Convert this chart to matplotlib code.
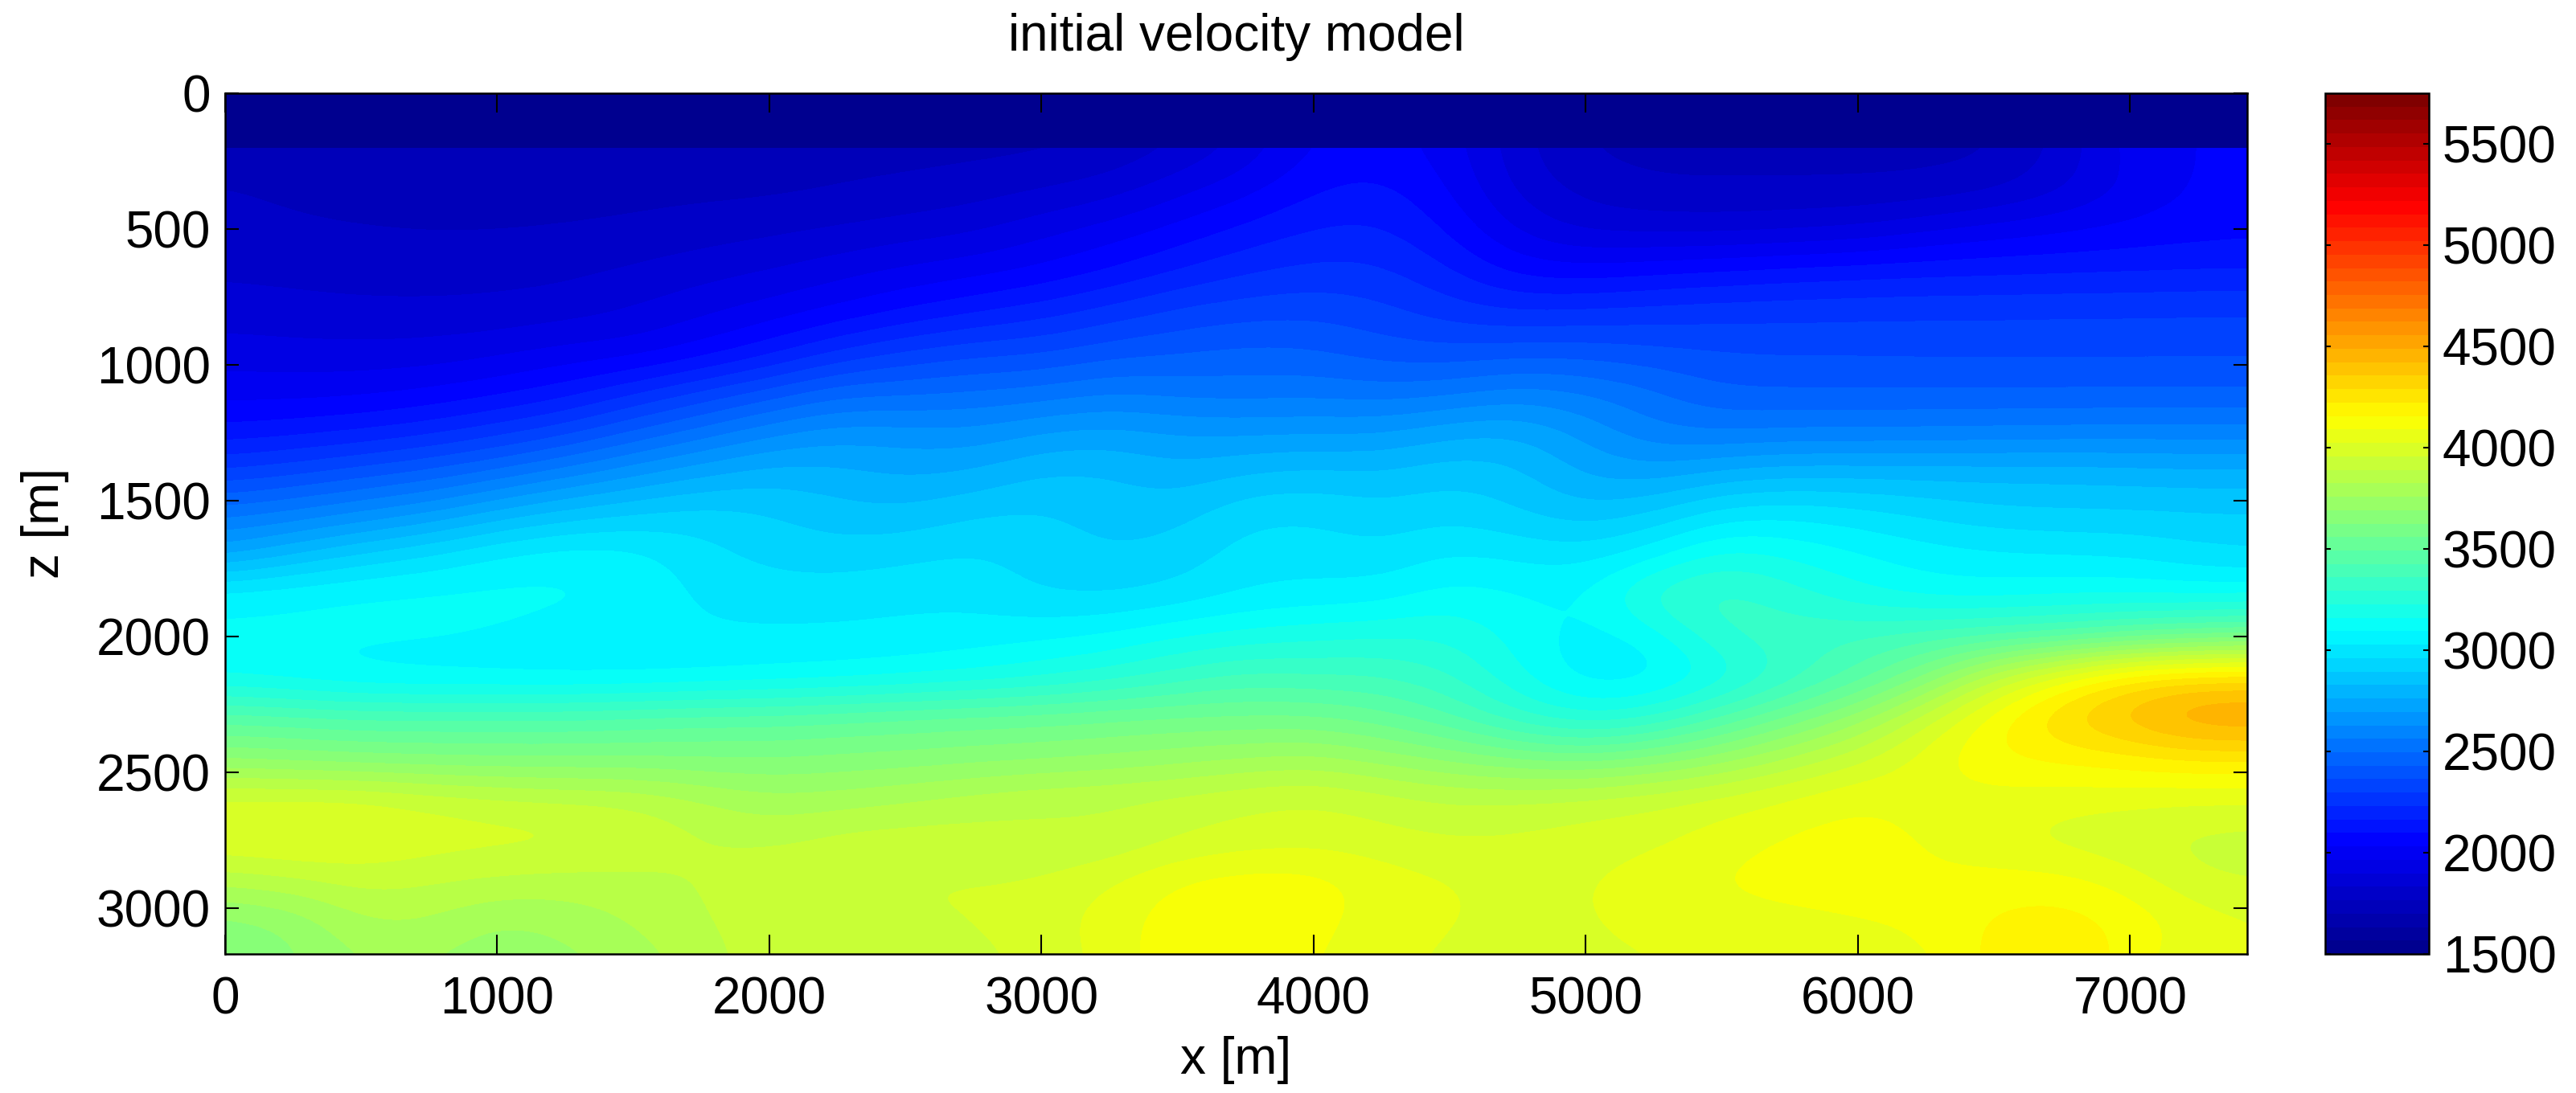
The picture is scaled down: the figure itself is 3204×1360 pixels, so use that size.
#!/usr/bin/env python3
"""
initial velocity model - image of the model with jet colorbar
"""
import matplotlib
matplotlib.use('Agg')
import matplotlib.pyplot as plt
import numpy as np
from matplotlib.colors import LinearSegmentedColormap

plt.rcParams['font.family'] = ['Liberation Sans', 'DejaVu Sans']

# grid, velocity in m/s
x_step = 250
z_first = 200
z_step = 150
water_velocity = 1500
x_max = 7430
z_max = 3170
v_min = 1500
v_max = 5750
x_ticks = [0, 1000, 2000, 3000, 4000, 5000, 6000, 7000]
z_ticks = [0, 500, 1000, 1500, 2000, 2500, 3000]
cbar_ticks = [1500, 2000, 2500, 3000, 3500, 4000, 4500, 5000, 5500]

z200 = [1745,1745,1745,1745,1745,1745,1745,1745,1745,1745,1745,1745,1750,1770,1830,1915,2040,2065,2001,1852,1755,1745,1745,1745,1745,1745,1750,1850,2000,2035,2050]
z350 = [1765,1750,1745,1745,1745,1745,1745,1745,1745,1760,1775,1795,1825,1860,1940,2005,2090,2117,2035,1874,1805,1770,1768,1768,1768,1775,1810,1880,1980,2040,2060]
z500 = [1795,1775,1765,1760,1760,1765,1775,1795,1815,1835,1860,1885,1940,1990,2050,2113,2168,2177,2090,1946,1875,1870,1865,1880,1900,1950,1990,2020,2045,2065,2075]
z650 = [1820,1815,1805,1800,1805,1815,1840,1870,1895,1935,1975,2000,2040,2095,2160,2218,2247,2243,2169,2067,2050,2075,2095,2117,2130,2140,2145,2150,2155,2160,2160]
z800 = [1860,1850,1845,1845,1850,1865,1900,1945,1990,2040,2095,2150,2195,2250,2310,2334,2346,2314,2260,2225,2240,2255,2270,2275,2280,2285,2285,2290,2290,2295,2295]
z950 = [1930,1920,1915,1920,1945,1980,1990,2050,2130,2230,2300,2340,2350,2400,2420,2445,2434,2393,2378,2397,2396,2377,2362,2355,2355,2350,2350,2350,2350,2350,2350]
z1100 = [2000,2000,2010,2035,2075,2125,2215,2304,2385,2472,2480,2500,2515,2560,2537,2528,2537,2518,2537,2588,2562,2505,2435,2430,2430,2430,2430,2430,2430,2430,2430]
z1250 = [2120,2140,2170,2210,2270,2340,2440,2524,2615,2672,2659,2645,2700,2723,2688,2683,2690,2690,2751,2766,2676,2575,2555,2571,2570,2575,2580,2585,2590,2590,2590]
z1400 = [2310,2350,2400,2450,2520,2600,2680,2753,2803,2785,2750,2770,2836,2834,2786,2830,2853,2837,2879,2849,2747,2724,2781,2809,2810,2810,2810,2810,2800,2790,2790]
z1550 = [2540,2580,2640,2700,2790,2860,2903,2931,2900,2853,2844,2894,2907,2865,2866,2950,2955,2918,2945,2901,2848,2900,2999,3018,2990,2950,2915,2905,2905,2900,2900]
z1700 = [2735,2830,2910,2970,3040,3075,3060,2983,2942,2926,2947,2972,2933,2897,2923,2993,2996,2974,3033,3013,2997,3066,3194,3148,3100,3060,3040,3030,3020,2980,2960]
z1850 = [3085,3100,3115,3120,3120,3110,3090,3013,2992,2998,3011,3006,2955,2950,2980,3030,3046,3060,3129,3100,3090,3293,3340,3265,3180,3130,3120,3140,3140,3130,3140]
z2000 = [3105,3105,3105,3100,3085,3060,3050,3040,3040,3040,3045,3060,3080,3106,3157,3186,3210,3224,3221,3135,3055,3110,3300,3340,3360,3390,3420,3440,3500,3540,3570]
z2150 = [3130,3100,3065,3055,3055,3055,3060,3075,3095,3110,3135,3160,3200,3250,3320,3380,3360,3360,3300,3170,3040,3045,3160,3300,3430,3625,3890,4100,4260,4310,4310]
z2300 = [3470,3450,3430,3430,3430,3430,3450,3470,3470,3490,3510,3530,3540,3560,3570,3570,3570,3520,3430,3300,3220,3280,3430,3570,3730,3940,4150,4310,4420,4530,4530]
z2450 = [3680,3660,3640,3630,3625,3625,3625,3625,3625,3640,3650,3665,3680,3700,3730,3760,3780,3730,3680,3625,3595,3650,3730,3840,3940,4070,4156,4170,4200,4230,4230]
z2600 = [3990,3990,3990,3950,3920,3900,3890,3830,3780,3790,3820,3860,3890,3900,3920,3950,3970,3930,3890,3900,3920,3950,3990,4040,4095,4060,4060,4050,4040,4030,4030]
z2750 = [4030,4050,4030,4000,3990,3990,3950,3900,3870,3920,3930,3920,3900,3890,3950,3980,3990,3980,3960,3970,3990,4010,4060,4105,4115,4090,4030,3990,3960,3930,3920]
z2900 = [3850,3880,3920,3900,3880,3860,3870,3890,3960,3950,3960,3960,3960,4020,4100,4130,4130,4060,4030,4000,4020,4060,4100,4120,4120,4100,4120,4120,4060,3960,3950]
z3050 = [3660,3700,3820,3820,3750,3780,3830,3880,3940,3950,3950,3960,3990,4060,4130,4150,4120,4050,4030,4000,4020,4040,4060,4070,4090,4110,4170,4195,4140,4060,4030]
z3200 = [3600,3680,3760,3760,3700,3730,3790,3850,3940,3920,3880,3940,3970,4050,4140,4150,4090,4040,4010,3990,4010,4020,4030,4040,4040,4060,4190,4240,4120,4030,4010]

rows = [z200, z350, z500, z650, z800, z950, z1100, z1250, z1400, z1550, z1700,
        z1850, z2000, z2150, z2300, z2450, z2600, z2750, z2900, z3050, z3200]
vel = np.array(rows, dtype=float)

# matlab style jet, 64 levels
jet64 = LinearSegmentedColormap.from_list('jet64', [
    (0.0, (0, 0, 0.5625)), (0.125, (0, 0, 1)), (0.375, (0, 1, 1)),
    (0.625, (1, 1, 0)), (0.875, (1, 0, 0)), (1.0, (0.5, 0, 0))], N=64)

W, H = 3205, 1360
fig = plt.figure(figsize=(W / 100, H / 100), dpi=100, facecolor='white')
ax = fig.add_axes([280 / W, 1 - 1187 / H, (2795 - 280) / W, (1187 - 116) / H])
cax = fig.add_axes([2892 / W, 1 - 1187 / H, (3021 - 2892) / W, (1187 - 116) / H])

nz, nx = vel.shape
extent = [-x_step / 2, (nx - 0.5) * x_step, z_first + (nz - 0.5) * z_step, z_first - z_step / 2]
im = ax.imshow(vel, cmap=jet64, vmin=v_min, vmax=v_max, extent=extent,
               aspect='auto', interpolation='bicubic', interpolation_stage='data')
# water layer on top
ax.imshow([[water_velocity]], cmap=jet64, vmin=v_min, vmax=v_max,
          extent=[0, x_max, z_first, 0], aspect='auto', interpolation='nearest')
ax.set_xlim(0, x_max)
ax.set_ylim(z_max, 0)

ax.set_xticks(x_ticks)
ax.set_yticks(z_ticks)
ax.tick_params(direction='in', top=True, right=True, length=17, width=1.5,
               labelsize=46)
ax.tick_params(axis='x', pad=20)
ax.tick_params(axis='y', pad=13, length=12)
for s in ax.spines.values():
    s.set_linewidth(1.8)
ax.set_xlabel('x [m]', fontsize=46, labelpad=10)
ax.set_ylabel('z [m]', fontsize=46, labelpad=24)
ax.set_title('initial velocity model', fontsize=46, pad=38)

cb = fig.colorbar(im, cax=cax)
cb.set_ticks(cbar_ticks)
cb.minorticks_off()
cax.tick_params(direction='in', left=True, right=True, length=5, width=1.5,
                labelsize=46, pad=12)
cb.outline.set_linewidth(1.8)

plt.savefig('out.png', dpi=100, facecolor='white')
